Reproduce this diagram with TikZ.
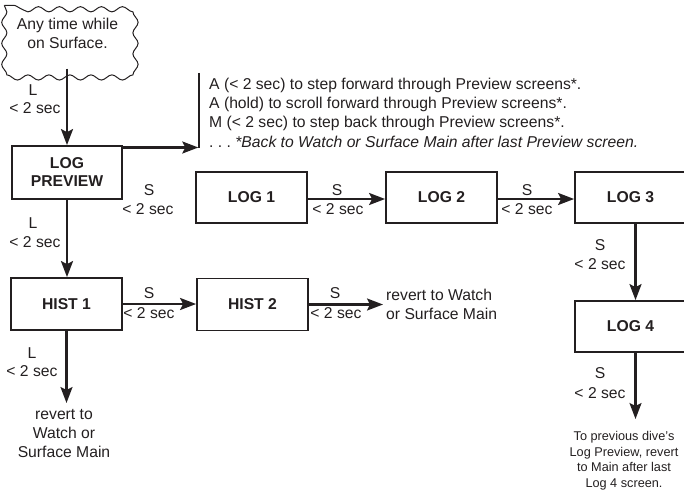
\documentclass[tikz,border=0pt]{standalone}
\usepackage{fontspec}
\setmainfont{Liberation Sans}
\usetikzlibrary{arrows.meta,decorations.pathmorphing}
\definecolor{ink}{HTML}{231F20}
\begin{document}
\begin{tikzpicture}[x=1pt,y=-1pt,
  every node/.style={text=ink, font=\fontsize{15.7}{19}\selectfont, inner sep=0pt},
  stepbox/.style={draw=ink, line width=1.8pt, fill=white, minimum width=111pt, minimum height=51pt,
    font=\fontsize{15.7}{18}\selectfont\bfseries, align=center},
  flow/.style={draw=ink, line width=2.2pt, -{Stealth[length=16pt,width=12pt,inset=3pt]}},
  cloudbox/.style={minimum width=126pt, minimum height=63pt, align=center},
  wavy/.style={draw=ink, line width=1pt, decorate,
    decoration={snake, segment length=21pt, amplitude=2.6pt}}]
\useasboundingbox (0,0) rectangle (684,489);
\clip (0,0) rectangle (684,489);

% nodes
\node[cloudbox, text depth=7.4pt] (cloud) at (67.5,37) {Any time while\\on Surface.};
\draw[wavy] (cloud.north west) rectangle (cloud.south east);
\node[stepbox, minimum width=110pt, minimum height=53pt] (lp) at (67,172.5) {LOG\\PREVIEW};
\node[stepbox] (log1) at (251.5,197.5) {LOG 1};
\node[stepbox] (log2) at (441.5,197.5) {LOG 2};
\node[stepbox] (log3) at (630.5,197.5) {LOG 3};
\node[stepbox] (log4) at (630.5,326.5) {LOG 4};
\node[stepbox, minimum height=52pt] (h1) at (66.5,304) {HIST 1};
\node[stepbox, minimum height=52pt] (h2) at (252.5,304.5) {HIST 2};

% preview notes
\coordinate (bt) at (199,73);
\coordinate (bb) at (199,148.5);
\coordinate (ba) at (198.3,147.5);
\draw[ink, line width=1.5pt] (bt) -- (bb);
\node[anchor=base west] (n1) at (209,89.3) {A (< 2 sec) to step forward through Preview screens*.};
\node[anchor=base west] (n2) at (209,108.6) {A (hold) to scroll forward through Preview screens*.};
\node[anchor=base west] (n3) at (209,127.9) {M (< 2 sec) to step back through Preview screens*.};
\node[anchor=base west] (n4) at (209,147.2) {.\ .\ .\ \textit{*Back to Watch or Surface Main after last Preview screen.}};

% end points
\coordinate (e4) at (635.5,419);
\coordinate (eh2) at (383,303.5);
\coordinate (eh1) at (67,403);

% connectors
\draw[flow] (lp.north |- cloud.south) -- (lp.north);
\draw[flow] (lp.east |- ba) -- (ba);
\draw[flow] (lp.south) -- (lp.south |- h1.north);
\draw[flow] ([yshift=-1.5pt]log1.east) -- ([yshift=-1.5pt]log2.west);
\draw[flow] ([yshift=-1.5pt]log2.east) -- ([yshift=-1.5pt]log3.west);
\draw[flow] ([xshift=5pt]log3.south) -- ([xshift=5pt]log4.north);
\draw[flow] ([xshift=5pt]log4.south) -- (e4);
\draw[flow] (h1.east) -- (h2.west |- h1.east);
\draw[flow] (h2.east) -- (h2.east -| eh2);
\draw[flow] (h1.south) -- (h1.south |- eh1);

% labels
\node (la1) at (33,90) {L};
\node (lb1) at (35,108) {< 2 sec};
\node (la2) at (33,223) {L};
\node (lb2) at (35,242) {< 2 sec};
\node (la3) at (149,190) {S};
\node (lb3) at (148,209) {< 2 sec};
\node (la4) at (337,190) {S};
\node (lb4) at (338,209) {< 2 sec};
\node (la5) at (527,190) {S};
\node (lb5) at (527,209) {< 2 sec};
\node (la6) at (600,245) {S};
\node (lb6) at (600,264) {< 2 sec};
\node (la7) at (600,373) {S};
\node (lb7) at (600,393) {< 2 sec};
\node (la8) at (149,293) {S};
\node (lb8) at (149,313) {< 2 sec};
\node (la9) at (335,293) {S};
\node (lb9) at (336,313) {< 2 sec};
\node (la10) at (32,353) {L};
\node (lb10) at (32,371) {< 2 sec};

% destination texts
\node[anchor=north west, align=left] (rv2) at (386,289) {revert to Watch\\or Surface Main};
\node[anchor=north, align=center] (rv1) at (64,409) {revert to\\Watch or\\Surface Main};
\node[anchor=north, align=center, font=\fontsize{12.7}{15.6}\selectfont] (prev) at (624,431)
  {To previous dive's\\Log Preview, revert\\to Main after last\\Log 4 screen.};
\end{tikzpicture}
\end{document}
